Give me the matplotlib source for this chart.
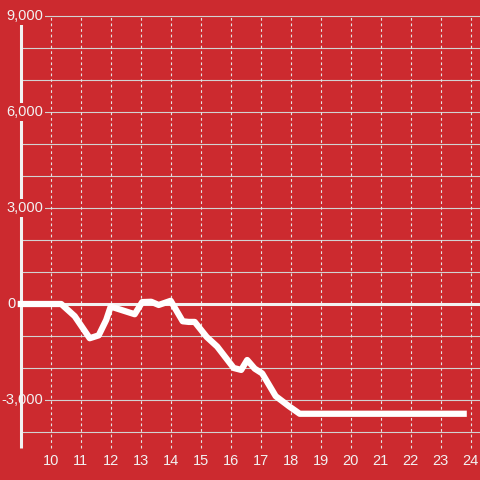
import matplotlib.pyplot as plt

# Hours of the day and running value
hours = [8.9, 10.35, 10.8, 11.3, 11.6, 11.85, 12.0, 12.5, 12.8, 13.05, 13.35,
         13.6, 14.0, 14.4, 14.6, 14.8, 15.2, 15.55, 16.1, 16.35, 16.55,
         16.8, 17.05, 17.5, 17.95, 18.3, 23.87]
values = [0, 0, -380, -1070, -980, -500, -80, -230, -320, 60, 70,
          -30, 100, -540, -560, -560, -1030, -1330, -2000, -2060, -1750,
          -2020, -2170, -2880, -3200, -3430, -3430]

x_ticks = list(range(10, 25))
y_grid = list(range(-4000, 10000, 1000))
y_labels = [9000, 6000, 3000, 0, -3000]

bg = '#cc2a2f'
fg = '#f2f2f2'
x_min, x_max = 8.31, 24.31
y_min, y_max = -5500, 9500
x_axis = 9.0
y_bottom = -4500

fig = plt.figure(figsize=(4.8, 4.8), dpi=100, facecolor=bg)
ax = fig.add_axes([0, 0, 1, 1])
ax.set_facecolor(bg)
ax.set_xlim(x_min, x_max)
ax.set_ylim(y_min, y_max)
ax.axis('off')

# Horizontal grid
ax.hlines(y_grid, x_axis, x_max, color='#d2d2d2', lw=0.8, zorder=1)
# Vertical dashed grid
ax.vlines(x_ticks, y_bottom, 9000, color='#e4e4e4', lw=0.8,
          linestyles=(0, (2.5, 2.5)), zorder=1)
# Zero line
ax.hlines(0, x_axis, x_max, color=fg, lw=2.2, zorder=2)
# Left axis line
ax.vlines(x_axis, y_bottom, 9000, color=fg, lw=2.2, zorder=2)

# Y labels with background boxes
for v in y_labels:
    xpos = 8.84 if v == 0 else 9.75
    z = 3 if v > 0 else 1.5
    ax.text(xpos, v, f'{v:,}', ha='right', va='center', color=fg,
            fontsize=10.5, family='Liberation Sans', zorder=z,
            bbox=dict(facecolor=bg, edgecolor='none', pad=1.5))

# Data line
ax.plot(hours, values, color='white', lw=4.5, solid_joinstyle='round',
        solid_capstyle='butt', zorder=5)

# X labels
for h in x_ticks:
    ax.text(h, -4905, str(h), ha='center', va='center', color=fg,
            fontsize=10.5, family='Liberation Sans', zorder=4)

fig.savefig('out.png', dpi=100, facecolor=bg)
